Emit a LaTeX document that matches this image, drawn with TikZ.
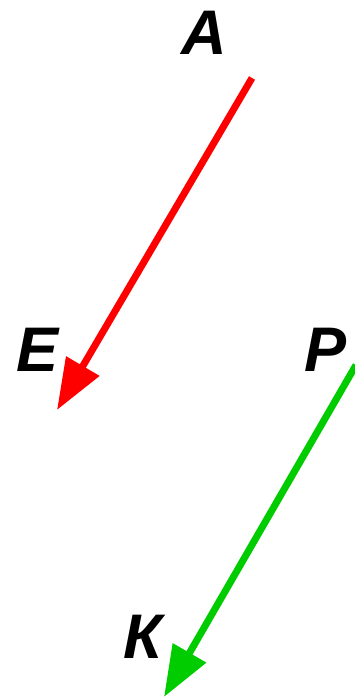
\documentclass[tikz,border=0pt]{standalone}
\usepackage{fontspec}
\setmainfont{Liberation Sans}
\usepackage{xcolor}
\usetikzlibrary{arrows.meta}
\definecolor{vecred}{RGB}{255,0,0}
\definecolor{vecgreen}{RGB}{0,204,0}

\begin{document}
\begin{tikzpicture}[x=1pt, y=-1pt,
  letter/.style={inner sep=0pt, font=\fontsize{63}{63}\selectfont\bfseries\itshape},
  vec/.style={line width=7pt, -{Triangle[length=51pt, width=37pt]}}]
\useasboundingbox (0,0) rectangle (354,697);
% labels
\node[letter] (a) at (204,33) {А};
\node[letter] (e) at (38,350) {Е};
\node[letter] (p) at (326,350) {Р};
\node[letter] (k) at (143,637) {К};
% vector ends
\coordinate (redstart) at (252,78);
\coordinate (redend) at (57,410);
\coordinate (greenstart) at (356,365);
\coordinate (greenend) at (164,697);
% vectors
\draw[vec, vecred] (redstart) -- (redend);
\draw[vec, vecgreen] (greenstart) -- (greenend);
\end{tikzpicture}
\end{document}
